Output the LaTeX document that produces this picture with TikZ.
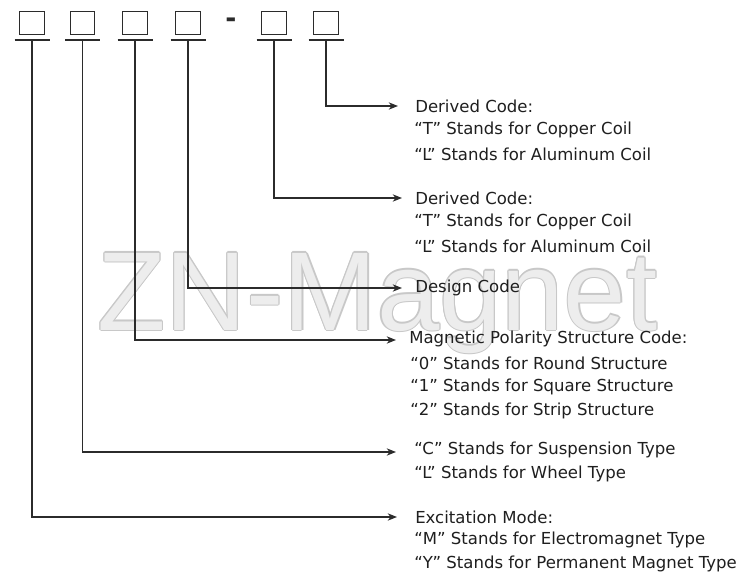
\documentclass[tikz,border=0pt]{standalone}
\usepackage{fontspec}
\setmainfont{DejaVu Sans}
\newfontfamily\wmfont{Liberation Sans}
\usetikzlibrary{arrows.meta}
\definecolor{ln}{HTML}{2B2B2B}
\definecolor{wmfill}{HTML}{EDEDED}
\definecolor{wmline}{HTML}{C8C8C8}
\tikzset{
  codebox/.style={draw=ln, line width=0.9pt, minimum width=18.5pt, minimum height=17.5pt, inner sep=0pt},
  conn/.style={draw=ln, line width=0.9pt, -{Stealth[length=7pt,width=5.5pt]}},
  uline/.style={draw=ln, line width=0.9pt},
  lbl/.style={anchor=west, inner sep=0pt, font=\fontsize{12.4}{14}\selectfont, text=black!88},
  wm/.style={inner sep=0pt, anchor=base west, font=\wmfont\fontsize{84}{90}\selectfont}
}
\begin{document}
\begin{tikzpicture}[x=0.75pt,y=-0.75pt]
\useasboundingbox (0,0) rectangle (750,588);
\fill[white] (0,0) rectangle (750,588);
% watermark
\foreach \dx/\dy [count=\i] in {-1.2/0,1.2/0,0/-1.2,0/1.2,-0.9/-0.9,0.9/0.9,-0.9/0.9,0.9/-0.9}{
  \node[wm, text=wmline] (wmo\i) at (97+\dx,330+\dy) {ZN-Magnet};
}
\node[wm, text=wmfill] (wm) at (97,330) {ZN-Magnet};
% code boxes
\node[codebox] (b1) at (32,23) {};
\node[codebox] (b2) at (82.5,23) {};
\node[codebox] (b3) at (135,23) {};
\node[codebox] (b4) at (188,23) {};
\node[codebox] (b5) at (274,23) {};
\node[codebox] (b6) at (326,23) {};
\node[inner sep=0pt, text=ln, font=\bfseries\fontsize{20}{20}\selectfont] (dash) at (231,23) {-};
% underlines
\foreach \b/\x in {1/32,2/82.5,3/135,4/188,5/274,6/326}{
  \coordinate (u\b) at (\x,40);
  \draw[uline] (\x-17.5,40) -- (\x+17.5,40);
}
% arrow end points
\coordinate (a6) at (398,106);
\coordinate (a5) at (402,198);
\coordinate (a4) at (402,288);
\coordinate (a3) at (396,340);
\coordinate (a2) at (396,452);
\coordinate (a1) at (397,517);
\draw[conn] (u6) |- (a6);
\draw[conn] (u5) |- (a5);
\draw[conn] (u4) |- (a4);
\draw[conn] (u3) |- (a3);
\draw[conn] (u2) |- (a2);
\draw[conn] (u1) |- (a1);
% labels
\node[lbl] (t6a) at (415,106) {Derived Code:};
\node[lbl] (t6b) at (414,130) {“T” Stands for Copper Coil};
\node[lbl] (t6c) at (414,154) {“L” Stands for Aluminum Coil};
\node[lbl] (t5a) at (415,198) {Derived Code:};
\node[lbl] (t5b) at (414,222) {“T” Stands for Copper Coil};
\node[lbl] (t5c) at (414,246) {“L” Stands for Aluminum Coil};
\node[lbl] (t4a) at (415,288) {Design Code};
\node[lbl] (t3a) at (409,339) {Magnetic Polarity Structure Code:};
\node[lbl] (t3b) at (410,363) {“0” Stands for Round Structure};
\node[lbl] (t3c) at (410,387) {“1” Stands for Square Structure};
\node[lbl] (t3d) at (410,411) {“2” Stands for Strip Structure};
\node[lbl] (t2a) at (414,450) {“C” Stands for Suspension Type};
\node[lbl] (t2b) at (414,474) {“L” Stands for Wheel Type};
\node[lbl] (t1a) at (415,517) {Excitation Mode:};
\node[lbl] (t1b) at (414,540) {“M” Stands for Electromagnet Type};
\node[lbl] (t1c) at (414,564) {“Y” Stands for Permanent Magnet Type};
\end{tikzpicture}
\end{document}
